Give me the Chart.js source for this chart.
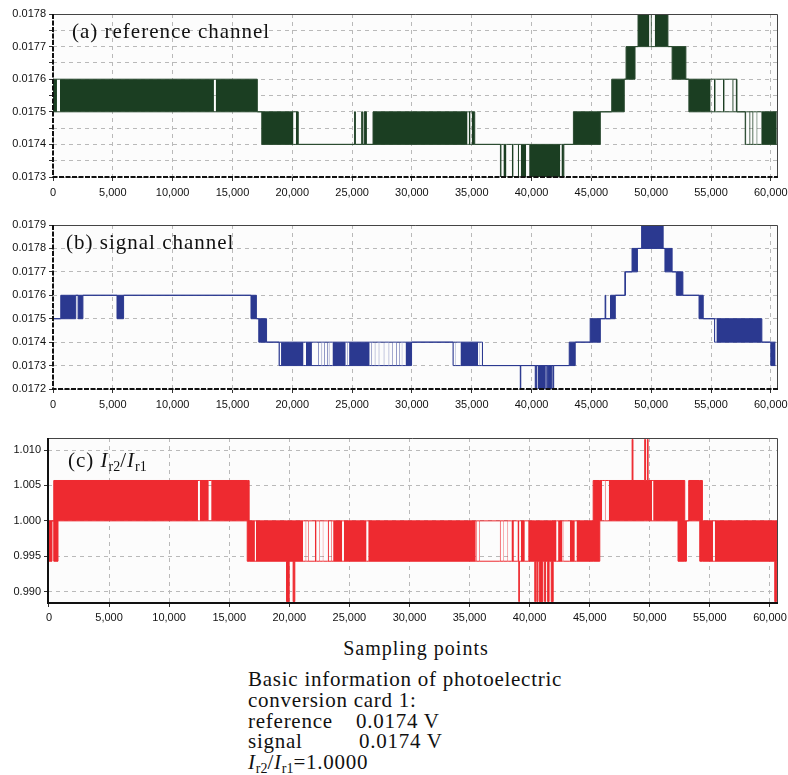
<!DOCTYPE html>
<html>
<head>
<meta charset="utf-8">
<script src="https://cdn.jsdelivr.net/npm/chart.js@4/dist/chart.umd.min.js"></script>
<style>
  body { margin: 0; background: #fff; width: 788px; height: 775px; position: relative; overflow: hidden; }
  .panel { position: absolute; left: 0; width: 788px; }
  .tag { position: absolute; font-family: "Liberation Serif", "Times New Roman", serif; font-size: 21px; letter-spacing: 1px; color: #111; line-height: 1; white-space: nowrap; }
  .tag i { font-style: italic; }
  .tag sub { font-size: 14px; vertical-align: -4px; letter-spacing: 0; }
  #xlabel { position: absolute; left: 0; width: 832px; top: 637px; text-align: center; font-family: "Liberation Serif", serif; font-size: 20px; letter-spacing: 1px; color: #111; }
  #info { position: absolute; left: 248px; top: 669px; font-family: "Liberation Serif", serif; font-size: 21px; letter-spacing: 0.75px; line-height: 20.8px; color: #111; white-space: nowrap; }
  #info span.c1 { display: inline-block; }
  #info sub { font-size: 14px; vertical-align: -4px; line-height: 0; letter-spacing: 0; }
</style>
</head>
<body>
<div class="panel" style="top:0;height:205px"><canvas id="chartA"></canvas></div>
<div class="panel" style="top:205px;height:212px"><canvas id="chartB"></canvas></div>
<div class="panel" style="top:417px;height:214px"><canvas id="chartC"></canvas></div>

<div class="tag" style="left:72px;top:21px">(a) reference channel</div>
<div class="tag" style="left:66px;top:232px">(b) signal channel</div>
<div class="tag" style="left:68px;top:450px">(c) <i>I</i><sub>r2</sub>/<i>I</i><sub>r1</sub></div>

<div id="xlabel">Sampling points</div>
<div id="info">
  Basic information of photoelectric<br>
  conversion card 1:<br>
  <span class="c1" style="width:108px">reference</span>0.0174 V<br>
  <span class="c1" style="width:111px">signal</span>0.0174 V<br>
  <i>I</i><sub>r2</sub>/<i>I</i><sub>r1</sub>=1.0000
</div>

<script>
// tick values
const xTickValues = [0, 5000, 10000, 15000, 20000, 25000, 30000, 35000, 40000, 45000, 50000, 55000, 60000];
const refTickValues = [0.0173, 0.01735, 0.0174, 0.01745, 0.0175, 0.01755, 0.0176, 0.01765, 0.0177, 0.01775, 0.0178];
const sigTickValues = [0.0172, 0.0173, 0.0174, 0.0175, 0.0176, 0.0177, 0.0178, 0.0179];
const ratTickValues = [0.990, 0.995, 1.000, 1.005, 1.010];

// (a) reference channel: each entry holds from its x until the next x
// lo/hi = range the signal flickers over, dense = 1 where toggling is dense
const refX = [0, 330, 580, 13450, 13600, 17080, 17450, 20100, 20300, 20500, 25200, 25280, 25800, 25870, 26000, 26200, 26750,
  34650, 34750, 34900, 35000, 35250, 37400, 37500, 37650, 37900, 38350, 38500, 38850, 38950, 39100, 39550, 39800, 42400,
  42500, 42700, 43500, 45750, 46700, 47750, 47900, 48650, 48900, 49850, 49950, 50050, 50300, 51400, 51750, 52900, 53150,
  54970, 55250, 55390, 56000, 56140, 56780, 56890, 57060, 57170, 57860, 57950, 58200, 58300, 58450, 58550, 58800, 58880, 59200];
const refLo = [0.0175, 0.0175, 0.0175, 0.0175, 0.0175, 0.0175, 0.0174, 0.0174, 0.0174, 0.0174, 0.0174, 0.0174, 0.0174, 0.0174, 0.0174, 0.0174, 0.0174,
  0.0174, 0.0174, 0.0174, 0.0174, 0.0174, 0.0173, 0.0173, 0.0173, 0.0173, 0.0173, 0.0173, 0.0173, 0.0173, 0.0173, 0.0173, 0.0173, 0.0173,
  0.0173, 0.0174, 0.0174, 0.0175, 0.0175, 0.0176, 0.0176, 0.0177, 0.0177, 0.0177, 0.0177, 0.0177, 0.0177, 0.0177, 0.0176, 0.0176, 0.0175,
  0.0175, 0.0175, 0.0175, 0.0175, 0.0175, 0.0175, 0.0175, 0.0175, 0.0175, 0.0174, 0.0174, 0.0174, 0.0174, 0.0174, 0.0174, 0.0174, 0.0174, 0.0174];
const refHi = [0.0176, 0.0176, 0.0176, 0.0176, 0.0176, 0.0175, 0.0175, 0.0175, 0.0175, 0.0174, 0.0175, 0.0174, 0.0175, 0.0174, 0.0175, 0.0174, 0.0175,
  0.0175, 0.0175, 0.0175, 0.0175, 0.0174, 0.0174, 0.0174, 0.0174, 0.0174, 0.0174, 0.0174, 0.0174, 0.0174, 0.0174, 0.0174, 0.0174, 0.0174,
  0.0174, 0.0174, 0.0175, 0.0175, 0.0176, 0.0176, 0.0177, 0.0177, 0.0178, 0.0178, 0.0178, 0.0178, 0.0178, 0.0177, 0.0177, 0.0176, 0.0176,
  0.0176, 0.0176, 0.0176, 0.0176, 0.0176, 0.0176, 0.0176, 0.0176, 0.0175, 0.0175, 0.0175, 0.0175, 0.0175, 0.0175, 0.0175, 0.0175, 0.0175, 0.0175];
const refDense = [1, 0, 1, 0, 1, 1, 1, 0, 1, 1, 1, 1, 1, 1, 1, 1, 1,
  0, 1, 0, 1, 1, 1, 0, 1, 0, 1, 0, 1, 0, 1, 0, 1, 0,
  1, 1, 1, 1, 1, 1, 1, 1, 1, 0, 1, 0, 1, 1, 1, 1, 1,
  0, 1, 0, 1, 0, 1, 0, 1, 1, 1, 0, 1, 0, 1, 0, 1, 0, 1];
const refEnd = 60500;

// (b) signal channel
const sigX = [0, 650, 1900, 2100, 2500, 5350, 5900, 16550, 17000, 17200, 17850, 18900, 18960, 19060, 20940, 21140, 21640,
  22160, 22220, 22440, 22500, 22660, 22720, 22910, 22970, 23050, 23110, 23360, 24470, 24590, 24640, 24750, 26470, 26610,
  26670, 26890, 26950, 27220, 27280, 27640, 27700, 28050, 28110, 28330, 28390, 28670, 28730, 28950, 29010, 29150, 29200,
  29470, 29970, 33440, 33480, 33620, 33660, 34060, 35530, 35620, 35660, 35840, 35900, 39060, 39100, 40310, 40440, 40580,
  41140, 41280, 41320, 41420, 41690, 41790, 41850, 43150, 43650, 44900, 45750, 46150, 46200, 46600, 47000, 47800, 47850,
  48400, 48850, 49200, 51000, 51150, 51750, 52100, 52650, 54000, 54350, 55300, 55350, 55450, 59250, 60000];
const sigLo = [0.0175, 0.0175, 0.0176, 0.0175, 0.0176, 0.0175, 0.0176, 0.0175, 0.0175, 0.0174, 0.0174, 0.0173, 0.0173, 0.0173, 0.0173, 0.0173, 0.0173,
  0.0173, 0.0173, 0.0173, 0.0173, 0.0173, 0.0173, 0.0173, 0.0173, 0.0173, 0.0173, 0.0173, 0.0173, 0.0173, 0.0173, 0.0173, 0.0173, 0.0173,
  0.0173, 0.0173, 0.0173, 0.0173, 0.0173, 0.0173, 0.0173, 0.0173, 0.0173, 0.0173, 0.0173, 0.0173, 0.0173, 0.0173, 0.0173, 0.0173, 0.0173,
  0.0173, 0.0174, 0.0173, 0.0173, 0.0173, 0.0173, 0.0173, 0.0173, 0.0173, 0.0173, 0.0173, 0.0173, 0.0172, 0.0173, 0.0172, 0.0173, 0.0172,
  0.0173, 0.0172, 0.0173, 0.0172, 0.0173, 0.0172, 0.0173, 0.0173, 0.0174, 0.0174, 0.0175, 0.0175, 0.0175, 0.0175, 0.0176, 0.0176, 0.0177,
  0.0177, 0.0178, 0.0178, 0.0178, 0.0177, 0.0177, 0.0176, 0.0176, 0.0175, 0.0175, 0.0174, 0.0174, 0.0174, 0.0174, 0.0173];
const sigHi = [0.0175, 0.0176, 0.0176, 0.0176, 0.0176, 0.0176, 0.0176, 0.0176, 0.0175, 0.0175, 0.0174, 0.0174, 0.0174, 0.0174, 0.0174, 0.0174, 0.0174,
  0.0174, 0.0174, 0.0174, 0.0174, 0.0174, 0.0174, 0.0174, 0.0174, 0.0174, 0.0174, 0.0174, 0.0174, 0.0174, 0.0174, 0.0174, 0.0174, 0.0174,
  0.0174, 0.0174, 0.0174, 0.0174, 0.0174, 0.0174, 0.0174, 0.0174, 0.0174, 0.0174, 0.0174, 0.0174, 0.0174, 0.0174, 0.0174, 0.0174, 0.0174,
  0.0174, 0.0174, 0.0174, 0.0174, 0.0174, 0.0174, 0.0174, 0.0174, 0.0174, 0.0174, 0.0174, 0.0173, 0.0173, 0.0173, 0.0173, 0.0173, 0.0173,
  0.0173, 0.0173, 0.0173, 0.0173, 0.0173, 0.0173, 0.0173, 0.0174, 0.0174, 0.0175, 0.0175, 0.0176, 0.0175, 0.0176, 0.0176, 0.0177, 0.0177,
  0.0178, 0.0178, 0.0179, 0.0178, 0.0178, 0.0177, 0.0177, 0.0176, 0.0176, 0.0175, 0.0175, 0.0175, 0.0175, 0.0174, 0.0174];
const sigDense = [1, 1, 1, 1, 1, 1, 1, 1, 1, 1, 1, 1, 0, 1, 0, 1, 0,
  1, 0, 1, 0, 1, 0, 1, 0, 1, 0, 1, 0, 1, 0, 1, 0, 1,
  0, 1, 0, 1, 0, 1, 0, 1, 0, 1, 0, 1, 0, 1, 0, 1, 0,
  1, 1, 1, 0, 1, 0, 1, 0, 1, 0, 1, 1, 1, 1, 1, 1, 1,
  1, 1, 1, 1, 1, 1, 1, 1, 1, 1, 1, 1, 1, 1, 1, 1, 1,
  1, 1, 1, 1, 1, 1, 1, 1, 1, 1, 1, 0, 1, 1, 1];
const sigEnd = 60400;

// (c) ratio Ir2/Ir1
const ratX = [0, 250, 400, 750, 12400, 12550, 13300, 13500, 16500, 16660, 17140, 17220, 19770, 19990, 20320, 20460,
  21150, 21350, 21420, 21550, 21620, 22130, 22270, 22500, 22560, 22780, 22840, 23200, 23300, 23480, 23540, 23650, 24400,
  24540, 26430, 26570, 35520, 35560, 35620, 35800, 35860, 37520, 37600, 37800, 37850, 38150, 38210, 38490, 38690, 38990,
  39100, 39150, 39270, 39600, 39880, 40430, 40500, 40600, 40680, 40800, 41100, 41250, 41330, 41500, 41620, 41800, 41960,
  42240, 42370, 42740, 42790, 42830, 43350, 43760, 43900, 45290, 45840, 46040, 46260, 46330, 46590, 48530, 48600, 49580,
  49640, 49800, 49860, 50190, 50280, 52350, 52910, 53050, 53240, 54160, 54380, 55270, 55410, 60400, 60540];
const ratLo = [0.9943, 1.0000, 0.9943, 1.0000, 1.0000, 1.0000, 1.0000, 1.0000, 0.9943, 0.9943, 0.9943, 0.9943, 0.9886, 0.9943, 0.9886, 0.9943,
  0.9943, 0.9943, 0.9943, 0.9943, 0.9943, 0.9943, 0.9943, 0.9943, 0.9943, 0.9943, 0.9943, 0.9943, 0.9943, 0.9943, 0.9943, 0.9943, 0.9943,
  0.9943, 0.9943, 0.9943, 0.9943, 0.9943, 0.9943, 0.9943, 0.9943, 0.9943, 0.9943, 0.9943, 0.9943, 0.9943, 0.9943, 0.9943, 0.9943, 0.9943,
  0.9886, 0.9943, 0.9943, 0.9943, 0.9943, 0.9886, 0.9943, 0.9886, 0.9943, 0.9886, 0.9943, 0.9886, 0.9943, 0.9886, 0.9943, 0.9886, 0.9943,
  0.9943, 0.9943, 0.9943, 0.9943, 0.9943, 0.9943, 0.9943, 0.9943, 0.9943, 1.0000, 1.0000, 1.0000, 1.0000, 1.0000, 1.0000, 1.0000, 1.0000,
  1.0000, 1.0000, 1.0000, 1.0000, 1.0000, 0.9943, 0.9943, 1.0000, 1.0000, 0.9943, 0.9943, 0.9943, 0.9943, 0.9886, 0.9943];
const ratHi = [1.0000, 1.0000, 1.0057, 1.0057, 1.0057, 1.0057, 1.0057, 1.0057, 1.0057, 1.0000, 1.0000, 1.0000, 1.0000, 1.0000, 1.0000, 1.0000,
  1.0000, 1.0000, 1.0000, 1.0000, 1.0000, 1.0000, 1.0000, 1.0000, 1.0000, 1.0000, 1.0000, 1.0000, 1.0000, 1.0000, 1.0000, 1.0000, 1.0000,
  1.0000, 1.0000, 1.0000, 1.0000, 1.0000, 1.0000, 1.0000, 1.0000, 1.0000, 1.0000, 1.0000, 1.0000, 1.0000, 1.0000, 1.0000, 1.0000, 1.0000,
  1.0000, 1.0000, 1.0000, 1.0000, 1.0000, 1.0000, 1.0000, 1.0000, 1.0000, 1.0000, 1.0000, 1.0000, 1.0000, 1.0000, 1.0000, 1.0000, 1.0000,
  1.0000, 1.0000, 1.0000, 1.0000, 1.0000, 1.0000, 1.0000, 1.0000, 1.0057, 1.0057, 1.0057, 1.0057, 1.0057, 1.0057, 1.0115, 1.0057, 1.0115,
  1.0057, 1.0115, 1.0057, 1.0057, 1.0057, 1.0057, 1.0000, 1.0000, 1.0057, 1.0057, 1.0000, 1.0000, 1.0000, 1.0000, 1.0000];
const ratDense = [1, 1, 1, 1, 0, 1, 0, 1, 1, 1, 0, 1, 1, 1, 1, 1,
  0, 1, 0, 1, 0, 1, 0, 1, 0, 1, 0, 1, 0, 1, 0, 1, 0,
  1, 0, 1, 0, 1, 0, 1, 0, 1, 0, 1, 0, 1, 0, 1, 0, 1,
  1, 0, 1, 0, 1, 1, 1, 1, 1, 1, 1, 1, 1, 1, 1, 1, 1,
  0, 1, 0, 1, 0, 1, 0, 1, 1, 1, 0, 1, 0, 1, 1, 1, 1,
  1, 1, 1, 0, 1, 1, 1, 1, 1, 1, 1, 0, 1, 1, 1];
const ratEnd = 60670;

Chart.defaults.font.family = "'Liberation Sans', Arial, sans-serif";
Chart.defaults.font.size = 11;
Chart.defaults.color = '#111';

// plot background, thin top/right frame, heavy left/bottom axes
const framePlugin = {
  id: 'frame',
  beforeDraw(chart) {
    const { ctx, chartArea: a } = chart;
    ctx.save();
    ctx.fillStyle = '#fcfcfc';
    ctx.fillRect(a.left, a.top, a.right - a.left, a.bottom - a.top);
    ctx.restore();
  },
  afterDraw(chart, args, opts) {
    const { ctx, chartArea: a } = chart;
    ctx.save();
    ctx.strokeStyle = '#444';
    ctx.lineWidth = 1;
    ctx.beginPath();
    ctx.moveTo(a.left, a.top + 0.5);
    ctx.lineTo(a.right - 0.5, a.top + 0.5);
    ctx.lineTo(a.right - 0.5, a.bottom);
    ctx.stroke();
    ctx.strokeStyle = '#111';
    ctx.lineWidth = 2;
    ctx.setLineDash(opts.dash || []);
    ctx.beginPath();
    ctx.moveTo(a.left, a.top);
    ctx.lineTo(a.left, a.bottom);
    ctx.lineTo(a.right, a.bottom);
    ctx.stroke();
    ctx.restore();
  }
};

// each value holds until the next x ("before" stepping in Chart.js terms)
function envelope(xs, vals, end) {
  const pts = xs.map((x, i) => ({ x: x, y: vals[i] }));
  pts.push({ x: end, y: vals[vals.length - 1] });
  return pts;
}

function makeChart(id, o) {
  const fillColor = o.color;
  return new Chart(document.getElementById(id), {
    type: 'line',
    data: {
      datasets: [
        { data: envelope(o.xs, o.hi, o.end), stepped: 'before', borderColor: o.line, borderWidth: 1,
          pointRadius: 0, fill: false },
        { data: envelope(o.xs, o.lo, o.end), stepped: 'before', borderColor: o.line, borderWidth: 1,
          pointRadius: 0, fill: '-1', backgroundColor: fillColor,
          segment: { backgroundColor: c => o.dense[c.p0DataIndex] ? fillColor : 'rgba(0,0,0,0)' } }
      ]
    },
    options: {
      responsive: true,
      maintainAspectRatio: false,
      animation: false,
      events: [],
      layout: { padding: { left: 0, right: 10, top: o.padTop, bottom: 0 } },
      plugins: { legend: { display: false }, tooltip: { enabled: false }, frame: { dash: o.axisDash } },
      scales: {
        x: {
          type: 'linear', min: o.xMin, max: o.xMax,
          afterFit(s) { s.height = 28; s.paddingLeft = 0; s.paddingRight = 0; },
          afterBuildTicks(s) { s.ticks = xTickValues.map(v => ({ value: v })); },
          ticks: { maxRotation: 0, autoSkip: false, padding: o.xPad, callback: v => v.toLocaleString('en-US') },
          grid: { color: '#b9b9b9', tickColor: '#333', tickLength: 4 },
          border: { display: false, dash: [4, 4] }
        },
        y: {
          type: 'linear', min: o.yMin, max: o.yMax,
          afterFit(s) { s.width = o.yWidth; s.paddingTop = 0; s.paddingBottom = 0; },
          afterBuildTicks(s) { s.ticks = o.yTicks.map(v => ({ value: v })); },
          ticks: { autoSkip: false, padding: 3, callback: o.yLabel },
          grid: { color: '#b9b9b9', tickColor: '#333', tickLength: 4 },
          border: { display: false, dash: [4, 4] }
        }
      }
    },
    plugins: [framePlugin]
  });
}

makeChart('chartA', {
  xs: refX, lo: refLo, hi: refHi, dense: refDense, end: refEnd, yTicks: refTickValues,
  color: '#1b3e22', line: '#2a4a30', padTop: 14, xPad: 5, yWidth: 53, axisDash: [5, 1.5],
  xMin: 0, xMax: 60600, yMin: 0.0173, yMax: 0.0178,
  yLabel: v => { const k = Math.round(v * 20000); return k % 2 === 0 ? (k / 20000).toFixed(4) : ''; }
});

makeChart('chartB', {
  xs: sigX, lo: sigLo, hi: sigHi, dense: sigDense, end: sigEnd, yTicks: sigTickValues,
  color: '#2b3990', line: '#2b3990', padTop: 20, xPad: 5, yWidth: 53, axisDash: [5, 1.5],
  xMin: 0, xMax: 60600, yMin: 0.0172, yMax: 0.0179,
  yLabel: v => v.toFixed(4)
});

makeChart('chartC', {
  xs: ratX, lo: ratLo, hi: ratHi, dense: ratDense, end: ratEnd, yTicks: ratTickValues,
  color: '#ee2a30', line: '#ee2a30', padTop: 21, xPad: 4, yWidth: 48, axisDash: [],
  xMin: -80, xMax: 60670, yMin: 0.9884, yMax: 1.0117,
  yLabel: v => v.toFixed(3)
});
</script>
</body>
</html>
